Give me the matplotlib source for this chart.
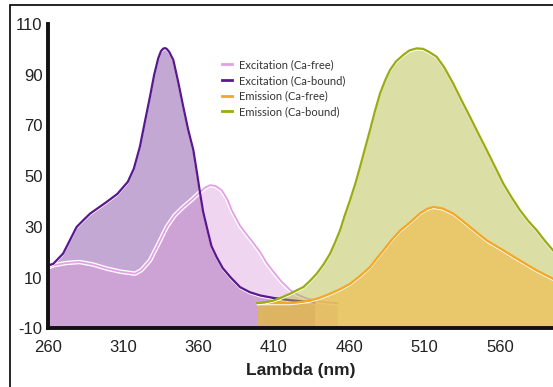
import matplotlib
matplotlib.use('Agg')
import matplotlib.pyplot as plt
import matplotlib.patheffects as pe
from matplotlib.patches import Rectangle

# Excitation (Ca-bound)
ex_bound_x = [260, 263.5, 270, 279, 284, 288, 294, 299, 306, 313, 317, 321, 324.5, 327.7,
              330.5, 333.2, 335, 336.5, 337.7, 338.8, 340.5, 343.2, 346.5, 349.8, 353, 356.5,
              359, 361, 363, 365.4, 368.5, 372, 376, 381, 387.5, 394, 401, 410, 420, 430, 437]
ex_bound_y = [14.8, 15.5, 19.5, 30, 33, 35.3, 37.8, 39.9, 43, 47.8, 53, 61.6, 72, 81.3,
              90, 96.5, 99.3, 100.3, 100.5, 100.2, 99.0, 95.8, 87, 77.4, 68.5, 60.3,
              51, 43.2, 36, 30, 22.5, 18.1, 13.8, 10.3, 6.3, 4.3, 3, 2, 1.2, 0.6, 0.3]

# Excitation (Ca-free)
ex_free_x = [260, 263.5, 272, 281, 290, 299, 308, 317.8, 322, 327.7, 333, 338.8, 344, 349.8,
             355, 361, 364.5, 367.6, 371.5, 375.3, 379, 382, 387.5, 392, 396, 401, 405,
             409.5, 415, 420.7, 426, 432, 440, 447, 452]
ex_free_y = [14, 14.9, 15.8, 16.2, 15.2, 13.6, 12.4, 11.6, 13, 16.8, 23, 30, 34.5, 37.9,
             40.5, 43.8, 45.6, 46.5, 46.1, 44.5, 41, 36.6, 30.5, 27, 24, 20, 16,
             12.5, 8.5, 5.2, 3.2, 1.8, 0.6, 0.2, 0]

# Emission (Ca-bound)
em_bound_x = [399, 404, 409.5, 415, 420.7, 425, 429.5, 434, 438.4, 443, 447.3, 450.5, 453.9,
              457, 460.5, 464, 467.2, 470.5, 473.8, 477, 480.5, 484, 487.1, 491, 495.9, 500,
              504.8, 509, 513, 518, 523, 529, 534.5, 540.2, 546, 551.3, 557, 562.3, 568,
              573.4, 579, 584.5, 590, 595.3]
em_bound_y = [0, 0.3, 1, 2.2, 3.7, 5, 6.3, 8.8, 11.6, 15.3, 19.5, 23.8, 28.7,
              34.5, 40.5, 47, 53.7, 61, 68.2, 75.5, 82.7, 88, 91.9, 95.2, 97.8, 99.6,
              100.4, 100.2, 99, 97.1, 93, 86.6, 80, 73.4, 66.5, 60.3, 53.5, 47.1, 41.5,
              36.6, 32.3, 28.7, 24.5, 20.8]

# Emission (Ca-free)
em_free_x = [399, 410, 420.7, 427, 434, 440, 447.3, 454, 460.5, 467, 473.8, 478, 482.7, 488,
             494, 500, 507.3, 512, 516, 522, 529, 534.5, 540.2, 546, 551.3, 557, 562.3,
             568, 573.4, 579, 584.5, 590, 595.3]
em_free_y = [0, 0, 0, 0.4, 1, 2, 3.7, 5.5, 7.6, 10.6, 14.2, 17.4, 20.8, 24.8,
             28.7, 31.6, 35.5, 37.2, 37.9, 37.3, 35.3, 32.8, 30, 27.2, 24.7, 22.7, 20.8,
             18.7, 16.8, 14.8, 12.9, 11.2, 9.6]

x_ticks = [260, 310, 360, 410, 460, 510, 560]
y_ticks = [-10, 10, 30, 50, 70, 90, 110]
labels = ['Excitation (Ca-free)', 'Excitation (Ca-bound)', 'Emission (Ca-free)', 'Emission (Ca-bound)']

fig = plt.figure(figsize=(5.53, 3.87), dpi=100)
ax = fig.add_axes([0.0868, 0.1512, 0.9132, 0.7868])

base = -10
# fills
ax.fill_between(ex_bound_x, base, ex_bound_y, color='#c4a8d4', lw=0, zorder=1)
ax.fill_between(ex_free_x, base, ex_free_y, color='#db9ddb', alpha=0.42, lw=0, zorder=1.1)

halo_in = [pe.Stroke(offset=(0, -1.1), linewidth=0.9, foreground='white'), pe.Normal()]
halo_both = [pe.Stroke(linewidth=3.2, foreground='white'), pe.Normal()]

ax.plot(ex_bound_x, ex_bound_y, color='#5a1890', lw=1.6, zorder=3, path_effects=halo_in)
ax.plot(ex_free_x, ex_free_y, color='#e3a0e6', lw=1.3, zorder=2.9, path_effects=halo_both)

ax.fill_between(em_bound_x, base, em_bound_y, color='#b3ba39', alpha=0.45, lw=0, zorder=4)
ax.fill_between(em_free_x, base, em_free_y, color='#f1ba44', alpha=0.6, lw=0, zorder=4.1)

ax.plot(em_free_x, em_free_y, color='#f5a623', lw=1.6, zorder=5, path_effects=halo_in)
ax.plot(em_bound_x, em_bound_y, color='#9aac12', lw=1.6, zorder=5.1, path_effects=halo_in)

ax.set_xlim(260, 595.3)
ax.set_ylim(-10, 110)

for s in ['top', 'right']:
    ax.spines[s].set_visible(False)
for s in ['left', 'bottom']:
    ax.spines[s].set_linewidth(2.8)
    ax.spines[s].set_color('#111111')
    ax.spines[s].set_zorder(6)

ax.set_xticks(x_ticks)
ax.set_xticklabels([str(t) for t in x_ticks])
ax.set_yticks(y_ticks)
ax.set_yticklabels([str(t) for t in y_ticks])
ax.tick_params(length=0, labelsize=12, colors='#222222')
ax.tick_params(axis='x', pad=8)
ax.tick_params(axis='y', pad=4)
for lab in ax.get_xticklabels() + ax.get_yticklabels():
    lab.set_family('Liberation Sans')

ax.set_xlabel('Lambda (nm)', fontsize=12.5, fontweight='bold', family='Liberation Sans',
              color='#222222', labelpad=6)

handles = [plt.Line2D([], [], color=c, lw=2) for c in ['#e3a0e6', '#5a1890', '#f5a623', '#9aac12']]
leg = ax.legend(handles, labels, loc='upper left', bbox_to_anchor=(0.345, 0.884), frameon=False,
                prop={'family': 'Lato', 'size': 8}, handlelength=0.9, handletextpad=0.6,
                labelspacing=0.42, borderpad=0, borderaxespad=0)
for t in leg.get_texts():
    t.set_color('#333333')

# outer frame
fig.patches.append(Rectangle((10 / 553, -0.1), 1.2, (387 - 5) / 387 + 0.1, fill=False,
                             edgecolor='black', lw=1.2, transform=fig.transFigure))

fig.savefig('out.png', dpi=100)
